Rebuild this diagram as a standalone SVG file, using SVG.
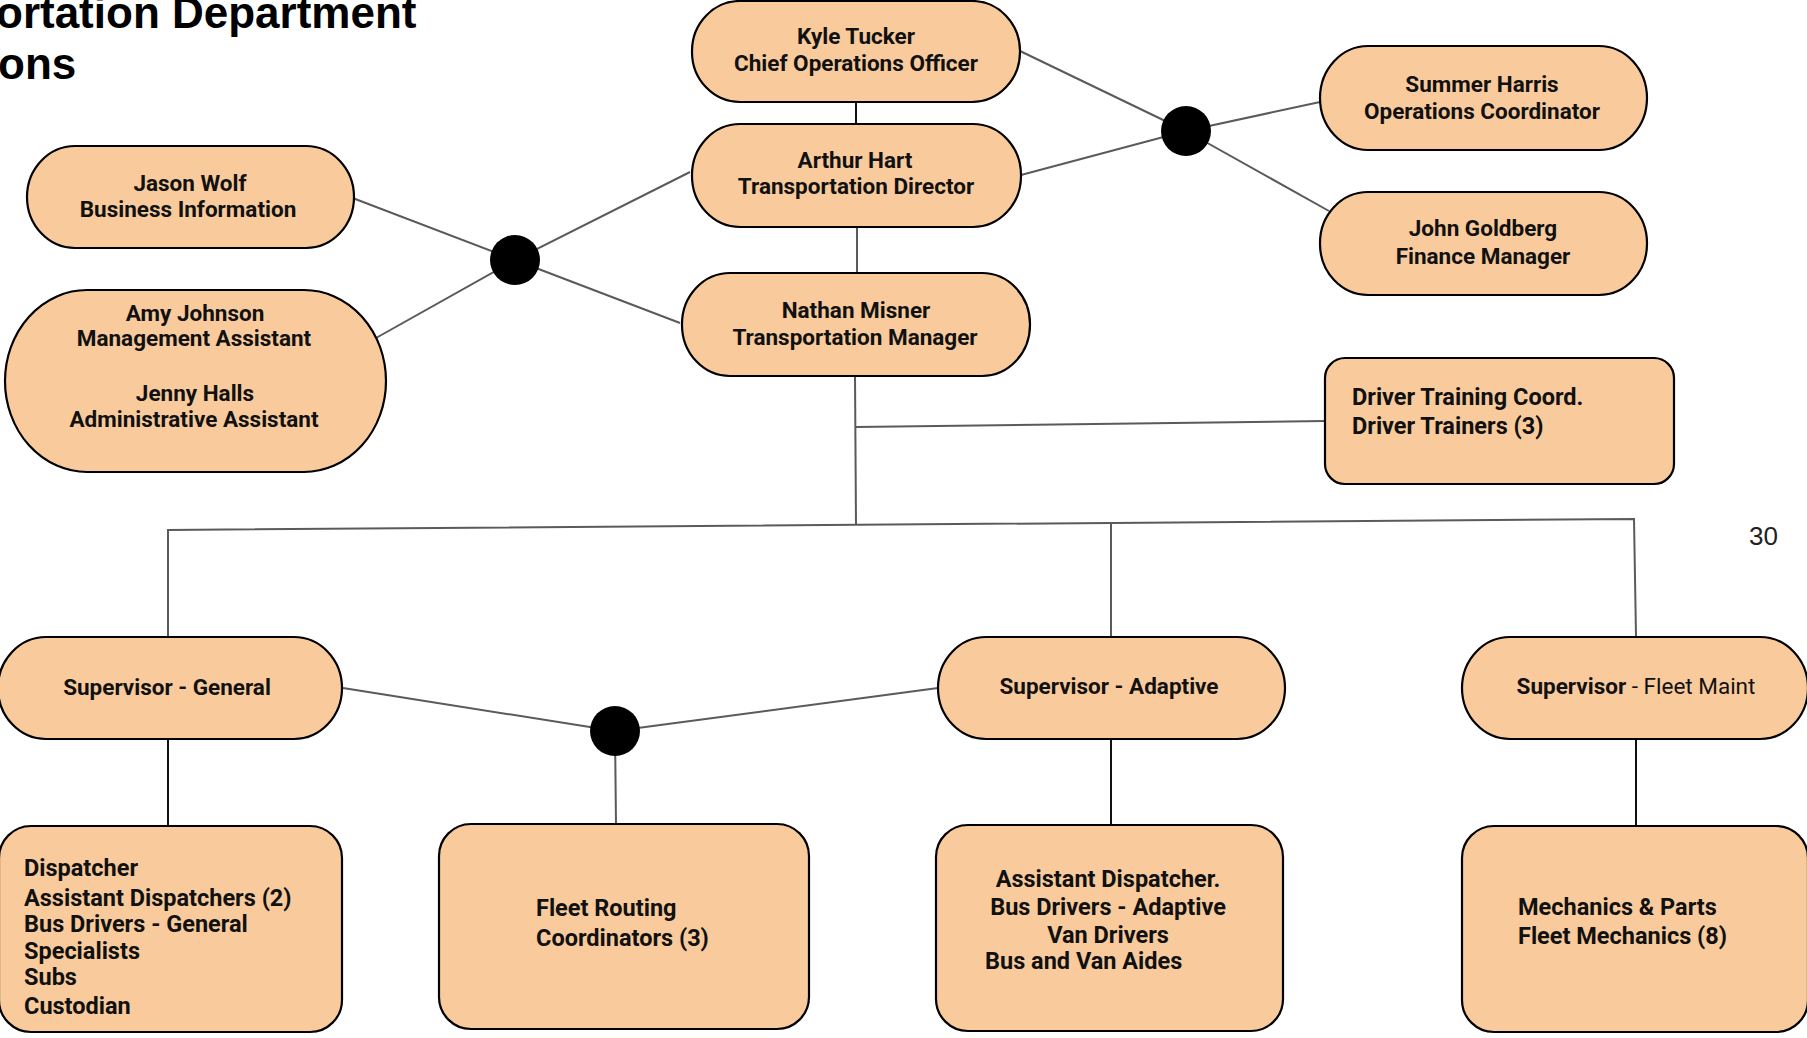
<svg xmlns="http://www.w3.org/2000/svg" width="1807" height="1038" viewBox="0 0 1807 1038">
<style>
.n{fill:#F9CB9C;stroke:#000;stroke-width:2.2}
.t{font-family:Roboto,"Liberation Sans",sans-serif;font-weight:bold;font-size:22.5px;fill:#111}
.b{font-size:23.5px}
.c{text-anchor:middle}
.r{font-weight:normal}
.l{stroke:#5a5a5a;stroke-width:2;fill:none}
.k{stroke:#111;stroke-width:2;fill:none}
.d{fill:#000}
.title{font-family:"Liberation Sans",Arial,sans-serif;font-weight:bold;font-size:44px;fill:#000}
</style>
<rect width="1807" height="1038" fill="#fff"/>
<g id="title">
<text class="title" x="-4" y="28">ortation Department</text>
<text class="title" x="-2" y="79">ons</text>
</g>
<g id="pagenum"><text x="1749" y="545" font-family="Liberation Sans,Arial,sans-serif" font-size="26" fill="#222">30</text></g>
<g id="connectors">
<line class="k" x1="856" y1="102" x2="856" y2="124"/>
<line class="l" x1="857" y1="227" x2="857" y2="273"/>
<line class="l" x1="350" y1="197" x2="515" y2="260"/>
<line class="l" x1="376" y1="338" x2="515" y2="260"/>
<line class="l" x1="515" y1="260" x2="690" y2="172"/>
<line class="l" x1="515" y1="260" x2="680" y2="323"/>
<line class="l" x1="1020" y1="51" x2="1186" y2="131"/>
<line class="l" x1="1021" y1="175" x2="1186" y2="131"/>
<line class="l" x1="1186" y1="131" x2="1320" y2="102"/>
<line class="l" x1="1186" y1="131" x2="1329" y2="211"/>
<line class="l" x1="855" y1="376" x2="856" y2="525"/>
<line class="l" x1="856" y1="427" x2="1325" y2="421"/>
<polyline class="l" points="168,637 168,530 1634,519 1636,636"/>
<line class="l" x1="1111" y1="523" x2="1111" y2="637"/>
<line class="k" x1="168" y1="739" x2="168" y2="826"/>
<line class="l" x1="343" y1="688" x2="615" y2="731"/>
<line class="l" x1="615" y1="731" x2="938" y2="688"/>
<line class="l" x1="615" y1="731" x2="616" y2="824"/>
<line class="k" x1="1111" y1="739" x2="1111" y2="825"/>
<line class="k" x1="1636" y1="739" x2="1636" y2="826"/>
<circle class="d" cx="515" cy="260" r="25"/>
<circle class="d" cx="1186" cy="131" r="25"/>
<circle class="d" cx="615" cy="731" r="25"/>
</g>
<g id="kyle"><rect class="n" x="692" y="1" width="328" height="101" rx="48" ry="50"/>
<text class="t c" x="856" y="44">Kyle Tucker</text><text class="t c" x="856" y="71">Chief Operations Officer</text></g>
<g id="arthur"><rect class="n" x="692" y="124" width="329" height="103" rx="48" ry="51"/>
<text class="t c" x="855" y="168">Arthur Hart</text><text class="t c" x="856" y="194">Transportation Director</text></g>
<g id="nathan"><rect class="n" x="682" y="273" width="348" height="103" rx="48" ry="51"/>
<text class="t c" x="856" y="318">Nathan Misner</text><text class="t c" x="855" y="345">Transportation Manager</text></g>
<g id="jason"><rect class="n" x="27" y="146" width="327" height="102" rx="48" ry="51"/>
<text class="t c" x="190" y="191">Jason Wolf</text><text class="t c" x="188" y="217">Business Information</text></g>
<g id="amy"><rect class="n" x="5" y="290" width="381" height="182" rx="82" ry="91"/>
<text class="t c" x="195" y="321">Amy Johnson</text><text class="t c" x="194" y="346">Management Assistant</text>
<text class="t c" x="195" y="401">Jenny Halls</text><text class="t c" x="194" y="427">Administrative Assistant</text></g>
<g id="summer"><rect class="n" x="1320" y="46" width="327" height="104" rx="48" ry="52"/>
<text class="t c" x="1482" y="92">Summer Harris</text><text class="t c" x="1482" y="119">Operations Coordinator</text></g>
<g id="john"><rect class="n" x="1320" y="192" width="327" height="103" rx="48" ry="51"/>
<text class="t c" x="1483" y="236">John Goldberg</text><text class="t c" x="1483" y="264">Finance Manager</text></g>
<g id="training"><rect class="n" x="1325" y="358" width="349" height="126" rx="20"/>
<text class="t b" x="1352" y="405">Driver Training Coord.</text><text class="t b" x="1352" y="434">Driver Trainers (3)</text></g>
<g id="sup-general"><rect class="n" x="-2" y="637" width="344" height="102" rx="48" ry="51"/>
<text class="t c" x="167" y="695">Supervisor - General</text></g>
<g id="sup-adaptive"><rect class="n" x="938" y="637" width="347" height="102" rx="48" ry="51"/>
<text class="t c" x="1109" y="694">Supervisor - Adaptive</text></g>
<g id="sup-fleet"><rect class="n" x="1462" y="637" width="346" height="102" rx="48" ry="51"/>
<text class="t c" x="1636" y="694">Supervisor<tspan class="r"> - Fleet Maint</tspan></text></g>
<g id="general-staff"><rect class="n" x="-1" y="826" width="343" height="206" rx="32"/>
<text class="t b" x="24" y="876">Dispatcher</text>
<text class="t b" x="24" y="906">Assistant Dispatchers (2)</text>
<text class="t b" x="24" y="932">Bus Drivers - General</text>
<text class="t b" x="24" y="959">Specialists</text>
<text class="t b" x="24" y="985">Subs</text>
<text class="t b" x="24" y="1014">Custodian</text></g>
<g id="routing"><rect class="n" x="439" y="824" width="370" height="205" rx="32"/>
<text class="t b" x="536" y="916">Fleet Routing</text><text class="t b" x="536" y="946">Coordinators (3)</text></g>
<g id="adaptive-staff"><rect class="n" x="936" y="825" width="347" height="206" rx="32"/>
<text class="t b c" x="1108" y="887">Assistant Dispatcher.</text>
<text class="t b c" x="1108" y="915">Bus Drivers - Adaptive</text>
<text class="t b c" x="1108" y="943">Van Drivers</text>
<text class="t b" x="985" y="969">Bus and Van Aides</text></g>
<g id="mechanics"><rect class="n" x="1462" y="826" width="346" height="206" rx="32"/>
<text class="t b" x="1518" y="915">Mechanics &amp; Parts</text><text class="t b" x="1518" y="944">Fleet Mechanics (8)</text></g>
</svg>
